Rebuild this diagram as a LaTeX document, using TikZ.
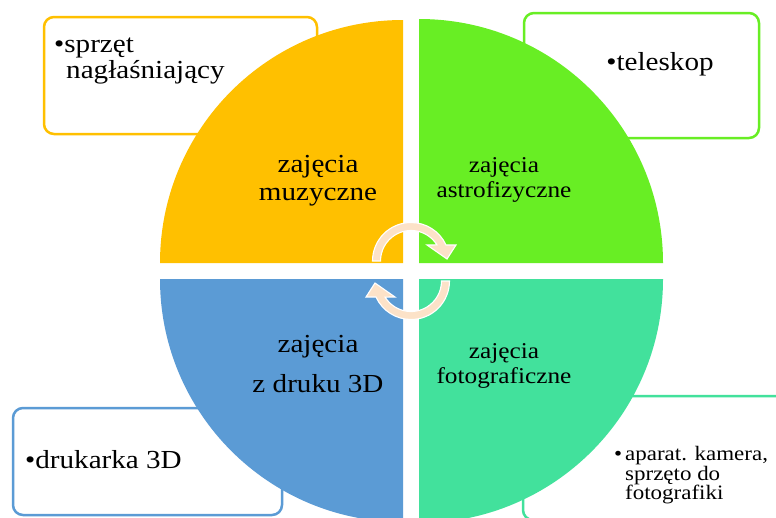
\documentclass[tikz,border=0pt]{standalone}
\usepackage{fontspec}
\setmainfont[FakeStretch=1.12]{Liberation Serif}
\definecolor{cyel}{RGB}{255,192,0}
\definecolor{cgrn}{RGB}{104,238,36}
\definecolor{cblu}{RGB}{91,155,213}
\definecolor{cteal}{RGB}{66,225,156}
\definecolor{cpeach}{RGB}{252,226,200}
\tikzset{
  obox/.style={draw=#1, line width=2.5pt, fill=white, rounded corners=10pt, inner sep=0pt, rectangle},
  txt/.style={inner sep=0pt, anchor=base},
  txtl/.style={inner sep=0pt, anchor=base west},
  big/.style={font=\fontsize{26}{26}\selectfont},
  mid/.style={font=\fontsize{22.6}{24}\selectfont},
  small/.style={font=\fontsize{20.5}{20}\selectfont},
  carrow/.style={fill=cpeach, draw=white, line width=1.1pt, line join=miter},
}
\begin{document}
\begin{tikzpicture}[x=1pt,y=-1pt]
\useasboundingbox (0,0) rectangle (776,517);
\clip (0,0) rectangle (776,517);
\fill[white] (0,0) rectangle (776,517);

% outer boxes
\node[obox=cyel, minimum width=273pt, minimum height=117pt] (byel) at (180.5,75.5) {};
\node[obox=cgrn, minimum width=235pt, minimum height=125pt] (bgrn) at (641.5,75.5) {};
\node[obox=cblu, minimum width=269pt, minimum height=107pt] (bblu) at (147.5,461.5) {};
\node[obox=cteal, minimum width=272pt, minimum height=124pt] (bteal) at (659,458) {};

% quadrants
\coordinate (cy) at (403,263);
\coordinate (cg) at (419,263);
\coordinate (cb) at (403,279);
\coordinate (ct) at (419,279);
\fill[cyel] (cy) -- (160,263) arc[start angle=180, end angle=270, radius=243] -- cycle;
\fill[cgrn] (cg) -- (419,19) arc[start angle=270, end angle=360, radius=244] -- cycle;
\fill[cblu] (cb) -- (160,279) arc[start angle=180, end angle=90, radius=243] -- cycle;
\fill[cteal] (ct) -- (663,279) arc[start angle=0, end angle=90, radius=244] -- cycle;

% circular arrows
\coordinate (ca) at (411,261);
\coordinate (cc) at (411,281);
\path[carrow] ([shift={(180:38.5)}]ca) arc[start angle=180, end angle=335.4, radius=38.5]
  -- (456,245) -- (447,259) -- (427,245) -- ([shift={(328.2:30.5)}]ca)
  arc[start angle=328.2, end angle=180, radius=30.5] -- cycle;
\path[carrow] ([shift={(0:38.5)}]cc) arc[start angle=0, end angle=155.4, radius=38.5]
  -- (366,297) -- (375,283) -- (395,297) -- ([shift={(148.2:30.5)}]cc)
  arc[start angle=148.2, end angle=0, radius=30.5] -- cycle;

% quadrant texts
\node[txt, big] (y1) at (318,172) {zajęcia};
\node[txt, big] (y2) at (318,200) {muzyczne};
\node[txt, mid] (g1) at (504,172) {zajęcia};
\node[txt, mid] (g2) at (504,197) {astrofizyczne};
\node[txt, big] (b1) at (318,352) {zajęcia};
\node[txt, big] (b2) at (318,392) {z druku 3D};
\node[txt, mid] (t1) at (504,358) {zajęcia};
\node[txt, mid] (t2) at (504,383) {fotograficzne};

% box texts
\node[txtl, big] (ya) at (54,52) {•sprzęt};
\node[txtl, big] (yb) at (66,78) {nagłaśniający};
\node[txt, big] (ga) at (660,70) {•teleskop};
\node[txtl, big] (ba) at (25,468) {•drukarka 3D};
\node[txtl, small] (ta0) at (614,460) {•};
\node[txtl, small] (ta) at (625,460) {aparat. kamera,};
\node[txtl, small] (tb) at (625,480) {sprzęto do};
\node[txtl, small] (tc) at (625,499) {fotografiki};
\end{tikzpicture}
\end{document}
